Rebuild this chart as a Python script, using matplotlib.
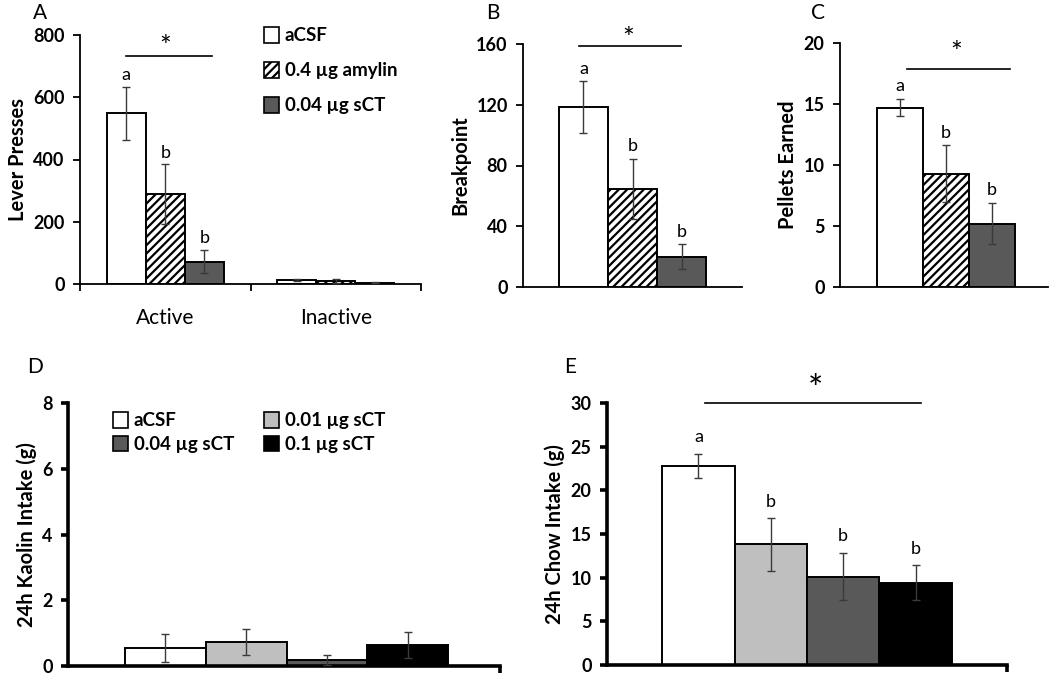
import matplotlib
matplotlib.use("Agg")
import matplotlib.pyplot as plt
from matplotlib.patches import Patch
import numpy as np

plt.rcParams['font.family'] = ['Lato', 'DejaVu Sans']
plt.rcParams['hatch.linewidth'] = 1.6

# ---- data ----
groupsA = ["aCSF", "0.4 µg amylin", "0.04 µg sCT"]
catsA = ["Active", "Inactive"]
leverA_mean = {"aCSF": [548, 12], "0.4 µg amylin": [289, 10], "0.04 µg sCT": [72, 4]}
leverA_err = {"aCSF": [85, 3], "0.4 µg amylin": [95, 6], "0.04 µg sCT": [37, 2]}
lettersA = ["a", "b", "b"]

breakB_mean = [118.5, 64.5, 20]
breakB_err = [17, 20, 8]
lettersB = ["a", "b", "b"]

pelletsC_mean = [14.7, 9.3, 5.2]
pelletsC_err = [0.7, 2.3, 1.7]
lettersC = ["a", "b", "b"]

groupsDE = ["aCSF", "0.01 µg sCT", "0.04 µg sCT", "0.1 µg sCT"]
kaolinD_mean = [0.55, 0.73, 0.18, 0.63]
kaolinD_err = [0.43, 0.4, 0.15, 0.4]

chowE_mean = [22.8, 13.8, 10.1, 9.4]
chowE_err = [1.4, 3.0, 2.7, 2.0]
lettersE = ["a", "b", "b", "b"]

# ---- style ----
W, H = 1050, 674
fig = plt.figure(figsize=(W / 100, H / 100), dpi=100)

def ax_px(x0, x1, ytop, ybot):
    return fig.add_axes([x0 / W, 1 - ybot / H, (x1 - x0) / W, (ybot - ytop) / H])

styleA = {
    "aCSF": dict(facecolor="white", hatch=None),
    "0.4 µg amylin": dict(facecolor="white", hatch="////"),
    "0.04 µg sCT": dict(facecolor="#595959", hatch=None),
}
colorsDE = ["white", "#BFBFBF", "#595959", "black"]
ERRC = "#3a3a3a"
LABFONT = dict(fontsize=14.5, fontweight="bold")
LEGPROP = dict(size=13.5, weight="bold")

def style_axes(ax, lw):
    for s in ["top", "right"]:
        ax.spines[s].set_visible(False)
    for s in ["left", "bottom"]:
        ax.spines[s].set_linewidth(lw)
    ax.tick_params(axis="y", direction="out", length=5, width=lw, pad=6)
    ax.tick_params(axis="x", direction="out", length=5, width=lw)
    for t in ax.get_yticklabels():
        t.set_fontweight("bold")
        t.set_fontsize(13)

def letter(ax, x, y, s, size=13):
    ax.text(x, y, s, ha="center", va="bottom", fontsize=size)

# ---------- Panel A ----------
axA = ax_px(80, 421, 35, 284)
bwA = 0.229
xc = np.array([0.5, 1.5])
for i, g in enumerate(groupsA):
    xs = xc + (i - 1) * bwA
    axA.bar(xs, leverA_mean[g], width=bwA, edgecolor="black", linewidth=1.4,
            label=g, zorder=2, **styleA[g])
    axA.errorbar(xs, leverA_mean[g], yerr=leverA_err[g], fmt="none", ecolor=ERRC,
                 elinewidth=1, capsize=3, zorder=3)
    letter(axA, xs[0], leverA_mean[g][0] + leverA_err[g][0] + 12, lettersA[i])
axA.set_xlim(0, 2)
axA.set_ylim(0, 800)
axA.set_yticks([0, 200, 400, 600, 800])
axA.set_xticks([0, 1, 2])
axA.set_xticklabels(["", "", ""])
for xcat, name in zip(xc, catsA):
    axA.text(xcat, -0.095, name, transform=axA.get_xaxis_transform(), ha="center",
             va="top", fontsize=15)
axA.set_ylabel("Lever Presses", labelpad=4, **LABFONT)
style_axes(axA, 1.3)
axA.plot([0.27, 0.774], [732, 732], color="black", lw=1.2, clip_on=False)
axA.text(0.5, 715, "*", ha="center", va="bottom", fontsize=20)
handles = [Patch(edgecolor="black", linewidth=1.2, **styleA[g]) for g in groupsA]
axA.legend(handles, groupsA, loc="upper left", bbox_to_anchor=(0.49, 1.1),
           frameon=False, handlelength=0.8, handleheight=0.9, handletextpad=0.3,
           labelspacing=0.95, prop=LEGPROP)
fig.text(40 / W, 1 - 13 / H, "A", fontsize=15, ha="center", va="center")

# ---------- Panel B ----------
axB = ax_px(523, 742, 44, 287)
bwB = 0.224
xs = 0.5 + (np.arange(3) - 1) * bwB
for i, g in enumerate(groupsA):
    axB.bar(xs[i], breakB_mean[i], width=bwB, edgecolor="black", linewidth=1.4,
            zorder=2, **styleA[g])
    axB.errorbar(xs[i], breakB_mean[i], yerr=breakB_err[i], fmt="none", ecolor=ERRC,
                 elinewidth=1, capsize=3, zorder=3)
    letter(axB, xs[i], breakB_mean[i] + breakB_err[i] + 3, lettersB[i])
axB.set_xlim(0, 1)
axB.set_ylim(0, 160)
axB.set_yticks([0, 40, 80, 120, 160])
axB.set_xticks([])
axB.set_ylabel("Breakpoint", labelpad=4, **LABFONT)
style_axes(axB, 1.3)
axB.plot([0.254, 0.72], [158.5, 158.5], color="black", lw=1.2, clip_on=False)
axB.text(0.48, 154, "*", ha="center", va="bottom", fontsize=20)
fig.text(493 / W, 1 - 13 / H, "B", fontsize=15, ha="center", va="center")

# ---------- Panel C ----------
axC = ax_px(840, 1048, 43, 287)
bwC = 0.221
xs = 0.51 + (np.arange(3) - 1) * bwC
for i, g in enumerate(groupsA):
    axC.bar(xs[i], pelletsC_mean[i], width=bwC, edgecolor="black", linewidth=1.4,
            zorder=2, **styleA[g])
    axC.errorbar(xs[i], pelletsC_mean[i], yerr=pelletsC_err[i], fmt="none", ecolor=ERRC,
                 elinewidth=1, capsize=3, zorder=3)
    letter(axC, xs[i], pelletsC_mean[i] + pelletsC_err[i] + 0.4, lettersC[i])
axC.set_xlim(0, 1)
axC.set_ylim(0, 20)
axC.set_yticks([0, 5, 10, 15, 20])
axC.set_xticks([])
axC.set_ylabel("Pellets Earned", labelpad=4, **LABFONT)
style_axes(axC, 1.3)
axC.plot([0.322, 0.817], [17.9, 17.9], color="black", lw=1.2, clip_on=False)
axC.text(0.56, 18.05, "*", ha="center", va="bottom", fontsize=20)
fig.text(818 / W, 1 - 13 / H, "C", fontsize=15, ha="center", va="center")

# ---------- Panel D ----------
axD = ax_px(68, 500, 403, 666)
bwD = 0.187
xs = 0.506 + (np.arange(4) - 1.5) * bwD
for i, g in enumerate(groupsDE):
    axD.bar(xs[i], kaolinD_mean[i], width=bwD, color=colorsDE[i], edgecolor="black",
            linewidth=1.4, zorder=2, label=g)
    axD.errorbar(xs[i], kaolinD_mean[i], yerr=kaolinD_err[i], fmt="none", ecolor=ERRC,
                 elinewidth=1, capsize=3, zorder=3)
axD.set_xlim(0, 1)
axD.set_ylim(0, 8)
axD.set_yticks([0, 2, 4, 6, 8])
axD.set_xticks([1])
axD.set_xticklabels([""])
axD.set_ylabel("24h Kaolin Intake (g)", labelpad=4, **LABFONT)
style_axes(axD, 2.6)
handlesD = [Patch(facecolor=c, edgecolor="black", linewidth=1.2) for c in colorsDE]
orderD = [0, 2, 1, 3]
axD.legend([handlesD[k] for k in orderD], [groupsDE[k] for k in orderD], ncol=2,
           loc="upper left", bbox_to_anchor=(0.065, 1.03), frameon=False,
           handlelength=0.8, handleheight=0.9, handletextpad=0.3, columnspacing=1.6,
           labelspacing=0.35, prop=LEGPROP)
fig.text(35 / W, 1 - 367 / H, "D", fontsize=15, ha="center", va="center")

# ---------- Panel E ----------
axE = ax_px(607, 1007, 403, 665)
bwE = 0.181
xs = 0.5 + (np.arange(4) - 1.5) * bwE
for i, g in enumerate(groupsDE):
    axE.bar(xs[i], chowE_mean[i], width=bwE, color=colorsDE[i], edgecolor="black",
            linewidth=1.4, zorder=2)
    axE.errorbar(xs[i], chowE_mean[i], yerr=chowE_err[i], fmt="none", ecolor=ERRC,
                 elinewidth=1, capsize=3, zorder=3)
    letter(axE, xs[i], chowE_mean[i] + chowE_err[i] + 1.0, lettersE[i])
axE.set_xlim(0, 1)
axE.set_ylim(0, 30)
axE.set_yticks([0, 5, 10, 15, 20, 25, 30])
axE.set_xticks([1])
axE.set_xticklabels([""])
axE.set_ylabel("24h Chow Intake (g)", labelpad=4, **LABFONT)
style_axes(axE, 2.6)
axE.plot([0.245, 0.785], [30, 30], color="black", lw=1.2, clip_on=False)
axE.text(0.52, 29.5, "*", ha="center", va="bottom", fontsize=26)
fig.text(570 / W, 1 - 367 / H, "E", fontsize=15, ha="center", va="center")

fig.savefig("out.png", dpi=100)
